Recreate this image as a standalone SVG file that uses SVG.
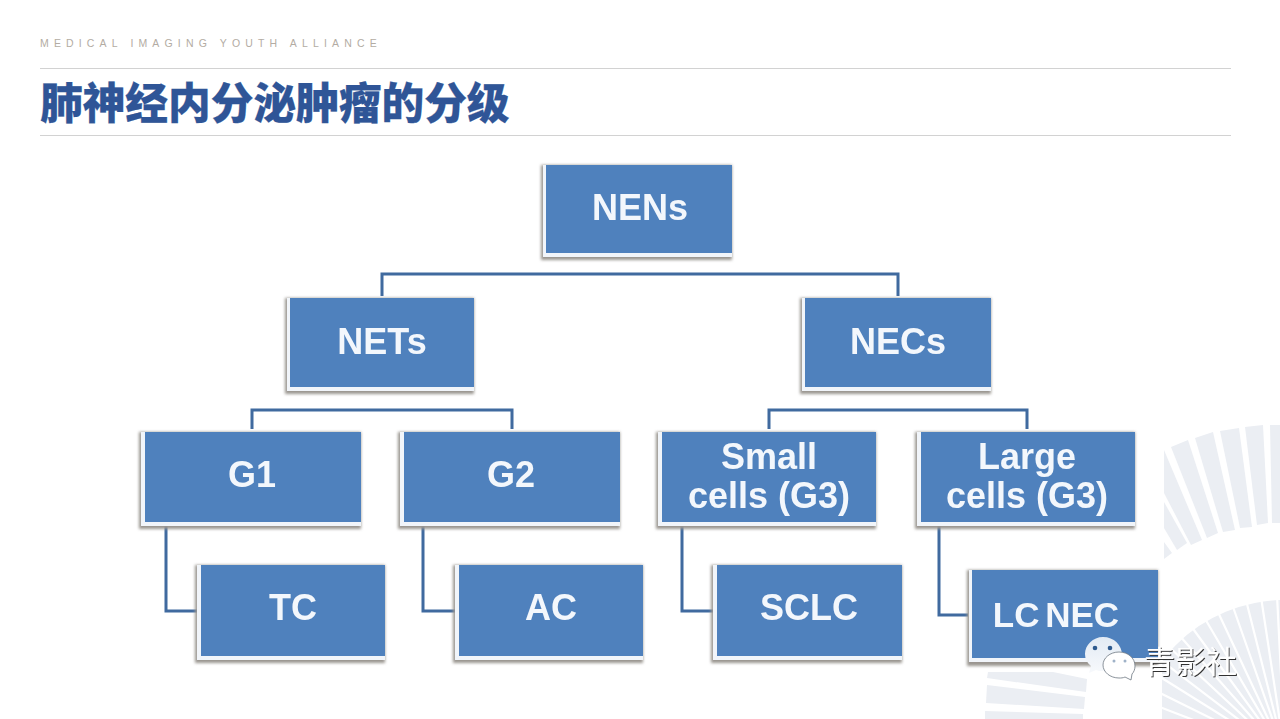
<svg xmlns="http://www.w3.org/2000/svg" width="1280" height="719" viewBox="0 0 1280 719">
<style>
.bg{fill:#ffffff}
.fan{fill:#ebeef3}
.spoke{stroke:#ffffff;stroke-width:2.2;fill:none}
.rule{stroke:#d2d2d2;stroke-width:1.2;fill:none}
.tag{font-family:"Liberation Sans",Arial,sans-serif;font-size:10.5px;letter-spacing:5.15px;fill:#b3aca3}
.title{font-family:"Noto Sans CJK SC","Liberation Sans",sans-serif;font-size:42.7px;font-weight:900;fill:#2f5597;stroke:#2f5597;stroke-width:0.25}
.sh{fill:#9a9590;filter:url(#b2)}
.bev{fill:#f1f5fa;filter:url(#b1)}
.box{fill:#4f81bd;filter:url(#b1)}
.lbl{font-family:"Liberation Sans",Arial,sans-serif;font-weight:700;font-size:36px;fill:#f3f7fc;text-anchor:middle;filter:url(#b1)}
.con{fill:none;stroke:#3f6a9f;stroke-width:3;filter:url(#b1)}
.dark{stroke:#2c5283}
.wm{font-family:"Noto Sans CJK SC","Liberation Sans",sans-serif;font-size:31px;font-weight:400;fill:#ffffff;filter:url(#ds)}
</style>
<defs>
<filter id="b1" x="-10%" y="-10%" width="120%" height="120%"><feGaussianBlur stdDeviation="0.6"/></filter>
<filter id="b2" x="-10%" y="-10%" width="120%" height="120%"><feGaussianBlur stdDeviation="1.6"/></filter>
<filter id="ds" x="-10%" y="-10%" width="120%" height="130%"><feDropShadow dx="1" dy="1" stdDeviation="0.3" flood-color="#333333"/></filter>
<clipPath id="lf"><rect x="1162" y="590" width="118" height="129"/></clipPath>
<linearGradient id="bub" x1="0" y1="0" x2="0" y2="1"><stop offset="0" stop-color="#e3ebf4"/><stop offset="1" stop-color="#f7f9fc"/></linearGradient>
</defs>
<rect class="bg" width="1280" height="719"/>

<g id="fan-top">
<polygon class="fan" points="1270,425 1280,425 1280,523 1272,523"/>
<polygon class="fan" points="1245,427 1263,425 1268,523 1257,525"/>
<polygon class="fan" points="1220,431 1239,428 1252,527 1240,528"/>
<polygon class="fan" points="1195,438 1213,432 1235,530 1223,532"/>
<polygon class="fan" points="1171,447 1188,440 1218,533 1207,538"/>
<polygon class="fan" points="1164,450 1202,540 1191,545 1164,493"/>
<polygon class="fan" points="1164,502 1187,543 1177,550 1164,528"/>
<polygon class="fan" points="1164,542 1172,553 1164,559"/>
</g>
<g id="fan-low" clip-path="url(#lf)">
<circle class="fan" cx="1285" cy="755" r="155"/>
<path class="spoke" d="M1285 755L1277 595M1285 755L1261 597M1285 755L1246 600M1285 755L1232 604M1285 755L1217 610M1285 755L1204 617M1285 755L1191 626M1285 755L1179 635M1285 755L1168 646M1285 755L1158 658M1285 755L1149 670M1285 755L1142 684M1285 755L1136 698M1285 755L1131 712"/>
</g>
<g id="fan-left">
<polygon class="fan" points="988,672 1053,672 1087,679 1086,692 987,678"/>
<polygon class="fan" points="987,685 1085,697 1084,709 986,703"/>
<polygon class="fan" points="985,711 1083,714 1083,719 985,719"/>
</g>

<g id="header">
<text class="tag" x="40" y="47">MEDICAL IMAGING YOUTH ALLIANCE</text>
<line class="rule" x1="40" y1="68.5" x2="1231" y2="68.5"/>
<text class="title" x="40" y="119">肺神经内分泌肿瘤的分级</text>
<line class="rule" x1="40" y1="135.5" x2="1231" y2="135.5"/>
</g>

<g id="connectors">
<path class="con dark" d="M640 256V274"/>
<path class="con" d="M382 296V274H898V296"/>
<path class="con dark" d="M382 391V410"/>
<path class="con" d="M252 429V410H512V429"/>
<path class="con dark" d="M898 391V410"/>
<path class="con" d="M769 429V410H1027V429"/>
<path class="con" d="M166 526V611H198"/>
<path class="con" d="M423 526V611H456"/>
<path class="con" d="M682 526V611H714"/>
<path class="con" d="M939 526V615H968"/>
</g>

<g id="node-nens"><rect class="sh" x="541" y="165" width="191" height="95"/><rect class="bev" x="543" y="165" width="189" height="92"/><rect class="box" x="546" y="165" width="186" height="88"/><text class="lbl" x="640" y="220">NENs</text></g>
<g id="node-nets"><rect class="sh" x="285" y="298" width="189" height="96"/><rect class="bev" x="287" y="298" width="187" height="93"/><rect class="box" x="290" y="298" width="184" height="89"/><text class="lbl" x="382" y="354">NETs</text></g>
<g id="node-necs"><rect class="sh" x="800" y="298" width="191" height="96"/><rect class="bev" x="802" y="298" width="189" height="93"/><rect class="box" x="805" y="298" width="186" height="89"/><text class="lbl" x="898" y="354">NECs</text></g>
<g id="node-g1"><rect class="sh" x="139" y="432" width="222" height="97"/><rect class="bev" x="141" y="432" width="220" height="94"/><rect class="box" x="145" y="432" width="216" height="90"/><text class="lbl" x="252" y="487">G1</text></g>
<g id="node-g2"><rect class="sh" x="398" y="432" width="222" height="97"/><rect class="bev" x="400" y="432" width="220" height="94"/><rect class="box" x="404" y="432" width="216" height="90"/><text class="lbl" x="511" y="487">G2</text></g>
<g id="node-small"><rect class="sh" x="656" y="432" width="220" height="97"/><rect class="bev" x="658" y="432" width="218" height="94"/><rect class="box" x="662" y="432" width="214" height="90"/><text class="lbl" x="769" y="469">Small</text><text class="lbl" x="769" y="508">cells (G3)</text></g>
<g id="node-large"><rect class="sh" x="915" y="432" width="220" height="97"/><rect class="bev" x="917" y="432" width="218" height="94"/><rect class="box" x="921" y="432" width="214" height="90"/><text class="lbl" x="1027" y="469">Large</text><text class="lbl" x="1027" y="508">cells (G3)</text></g>
<g id="node-tc"><rect class="sh" x="195" y="565" width="190" height="98"/><rect class="bev" x="197" y="565" width="188" height="95"/><rect class="box" x="201" y="565" width="184" height="91"/><text class="lbl" x="293" y="620">TC</text></g>
<g id="node-ac"><rect class="sh" x="453" y="565" width="190" height="98"/><rect class="bev" x="455" y="565" width="188" height="95"/><rect class="box" x="459" y="565" width="184" height="91"/><text class="lbl" x="551" y="620">AC</text></g>
<g id="node-sclc"><rect class="sh" x="711" y="565" width="191" height="98"/><rect class="bev" x="713" y="565" width="189" height="95"/><rect class="box" x="717" y="565" width="185" height="91"/><text class="lbl" x="809" y="620">SCLC</text></g>
<g id="node-lcnec"><rect class="sh" x="967" y="570" width="191" height="96"/><rect class="bev" x="969" y="570" width="189" height="92"/><rect class="box" x="972" y="570" width="186" height="88"/><text class="lbl" x="1056" y="627" style="font-size:35px;word-spacing:-4px">LC NEC</text></g>

<g id="watermark">
<path d="M1103 637C1114 637 1122 645 1122 655C1122 665 1113 671 1103 671C1100 671 1098 671 1096 670L1089 673L1091 666C1087 663 1085 659 1085 654C1085 645 1093 637 1103 637Z" fill="url(#bub)"/>
<circle cx="1095" cy="648" r="2.3" fill="#2f5b8f"/><circle cx="1110" cy="648" r="2.3" fill="#2f5b8f"/>
<path d="M1119 652C1128 652 1135 658 1135 666C1135 669 1134 672 1132 674L1131 680L1125 677C1123 678 1121 678 1119 678C1110 678 1103 672 1103 665C1103 658 1110 652 1119 652Z" fill="#ffffff" stroke="#6d7782" stroke-width="0.8"/>
<circle cx="1114" cy="661" r="1.5" fill="#9fb2c8"/><circle cx="1125" cy="661" r="1.5" fill="#9fb2c8"/>
<text class="wm" x="1144" y="673">青影社</text>
</g>
</svg>
